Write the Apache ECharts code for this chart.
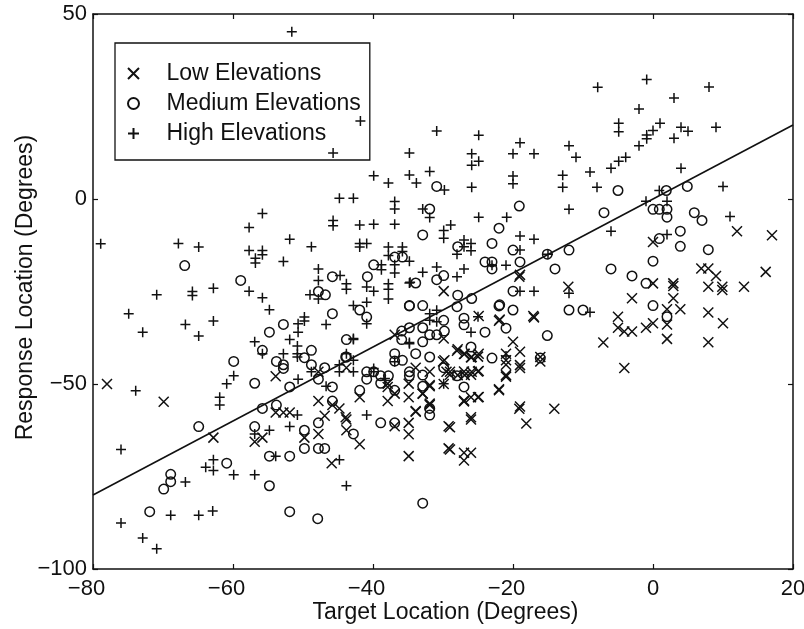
<!DOCTYPE html>
<html><head><meta charset="utf-8">
<style>html,body{margin:0;padding:0;background:#fff}#c{width:804px;height:629px}</style>
<script src="https://cdn.jsdelivr.net/npm/echarts@6/dist/echarts.min.js"></script>
</head><body><div id="c"></div>
<script>
const seriesNames=['Low Elevations','Medium Elevations','High Elevations'];
const xTicks=[-80,-60,-40,-20,0,20];
const yTicks=[-100,-50,0,50];
const xTitle='Target Location (Degrees)';
const yTitle='Response Location (Degrees)';
const unityLine=[[-80,-80],[20,20]];
const low=[[-78,-50],[-69.9,-54.8],[-62.8,-64.5],[-53.9,-47.9],[-56.9,-65.6],[-55.8,-64.5],[-53.9,-57.7],[-51.9,-57.7],[-52.8,-57.7],[-47.8,-54.6],[-45.8,-55.7],[-44.8,-56.6],[-46.9,-58.6],[-43.8,-59.6],[-43.8,-62.5],[-47.8,-63.5],[-49.8,-64.5],[-41.9,-66.3],[-45.9,-71.4],[-34.9,-69.5],[-34.9,-63.6],[-34.9,-60.5],[-36.9,-61.4],[-41.9,-53.6],[-37.9,-54.6],[-37.9,-50.8],[-34.9,-53.6],[-34.9,-49.9],[-32.9,-52.6],[-31.9,-55.7],[-33.9,-57.5],[-31.9,-50.6],[-31.9,-46.7],[-33.9,-45.6],[-43.8,-45.6],[-47.8,-46.7],[-36.9,-36.7],[-29.9,-37.7],[-29.8,-43.6],[-29.5,-46.7],[-29.9,-50],[-29.2,-61.4],[-29.2,-67.4],[-29.9,-24.9],[-19,-20.5],[-17.1,-31.6],[-21.9,-32.6],[-24.9,-31.6],[-20,-38.6],[-27.9,-40.6],[-26.9,-41.8],[-25.9,-42.7],[-24.9,-41.8],[-21,-41.8],[-19,-41.3],[-21,-43.6],[-19,-44.9],[-16.1,-42.7],[-16.1,-43.9],[-29,-46.7],[-27.9,-47.6],[-25.9,-46.7],[-24.9,-46.5],[-26.9,-47.6],[-21,-47.6],[-31.9,-50.3],[-37.9,-49.9],[-36.9,-52.6],[-32.9,-52.6],[-31.9,-55.3],[-33.9,-57.3],[-27,-54.5],[-26,-53.6],[-24.9,-53.5],[-22,-51.4],[-19,-56.1],[-26,-59],[-43.9,-59],[-3,-26.8],[2.9,-26.8],[7.9,-30.7],[10,-33.6],[-17,-32],[-22,-32.9],[-5,-31.8],[-5,-34.8],[-4.1,-35.8],[-3,-35.8],[-1,-34.8],[0,-33.6],[2,-29.8],[2,-33.9],[2,-37.8],[3.9,-29.8],[7.9,-38.7],[-7.1,-38.8],[-4.1,-45.7],[-28,-41],[-27,-41.9],[-26,-42.8],[-25,-42.6],[-21,-44.8],[-19,-45.7],[-21,-48],[-25,-46.6],[-26,-47.5],[-27,-46.6],[-29,-47.5],[-30,-43.9],[-22,-51.7],[-25,-53.6],[-27,-54.7],[-19.1,-56.7],[-14.1,-56.7],[-18.1,-60.7],[-26,-59.6],[-29,-61.7],[-29,-67.7],[-27,-68.6],[-26,-68.6],[-27,-70.7],[12,-8.7],[17,-9.8],[0,-11.6],[-19.1,-21],[-12.1,-23.7],[6.9,-18.8],[7.9,-18.8],[9,-20.8],[16.1,-19.7],[0,-22.8],[2.9,-22.8],[2.9,-23.5],[7.9,-23.7],[9.9,-23.7],[9.9,-24.6],[13,-23.7]];
const medium=[[-66.9,-18],[-58.9,-22],[-47.8,-25],[-46.8,-25.9],[-45.8,-21],[-40.8,-21],[-39.9,-17.8],[-36.9,-15.7],[-35.8,-15.7],[-33.9,-22.7],[-30.9,-21.8],[-29.9,-20.7],[-32.9,-9.7],[-31.9,-2.7],[-30.9,3.4],[-45.8,-31],[-52.8,-33.9],[-54.8,-36],[-41.9,-30],[-40.9,-31.9],[-34.8,-28.8],[-32.9,-28.8],[-29.9,-32.8],[-29.8,-35.7],[-32.9,-34.8],[-34.8,-34.8],[-35.9,-35.7],[-35.9,-38],[-32.9,-38.6],[-31.9,-36.7],[-30.9,-36.7],[-43.8,-38],[-55.8,-40.9],[-59.9,-43.9],[-48.8,-40.9],[-49.8,-42.9],[-53.8,-43.9],[-52.8,-44.8],[-52.8,-45.8],[-48.8,-44.8],[-46.9,-45.6],[-43.8,-42.7],[-36.9,-41.8],[-36.9,-43.8],[-35.8,-43.6],[-33.9,-41.8],[-31.9,-42.7],[-29.9,-45.6],[-40.9,-46.7],[-40.9,-48.7],[-39.9,-46.7],[-38.9,-47.8],[-38.9,-49.8],[-37.8,-47.8],[-34.8,-46.7],[-34.8,-47.8],[-32.9,-47.6],[-32.9,-50.6],[-36.9,-51.7],[-41.9,-51.7],[-56.9,-49.8],[-51.9,-50.8],[-47.8,-48.7],[-45.8,-50.8],[-45.8,-54.6],[-55.8,-56.6],[-53.8,-55.7],[-31.9,-56.6],[-31.9,-58.4],[-47.8,-60.5],[-42.8,-63.5],[-64.9,-61.5],[-56.9,-61.5],[-49.8,-62.5],[-38.9,-60.5],[-36.9,-60.5],[-49.8,-67.4],[-47.8,-67.4],[-46.9,-67.4],[-54.8,-69.5],[-51.9,-69.5],[-60.9,-71.4],[-68.9,-74.4],[-68.9,-76.4],[-69.9,-78.4],[-54.8,-77.5],[-71.9,-84.5],[-51.9,-84.5],[-47.9,-86.4],[-32.9,-82.2],[-5,2.3],[-19.1,-1.9],[-7,-3.7],[4.9,3.4],[1.9,2.3],[0,-2.8],[0.9,-2.8],[2,-2.8],[2,-4.9],[5.9,-3.7],[7,-5.8],[-22,-7.9],[-23,-12],[-27.9,-12.9],[-20,-13.8],[3.9,-8.7],[0.9,-10.7],[3.9,-12.8],[7.9,-13.7],[-15.1,-14.9],[-12,-13.8],[0,-16.8],[-24,-17],[-23,-17],[-23,-18.9],[-19,-17],[-14,-18.9],[-6,-18.9],[-3,-20.8],[-1,-22.8],[-20,-24.9],[-27.9,-26],[-25.9,-26.9],[-22,-28.9],[-20,-30],[-12,-30],[-10,-30],[0,-28.8],[2,-31.8],[-15.1,-36.9],[-21,-34.9],[-24,-36],[-27,-32.2],[-27,-34],[-28,-29.1],[-26,-40],[-23,-43],[-16.1,-43],[-27,-50.8],[-28,-47.8],[-34.8,-28.9],[-21.9,-28.6],[-43.9,-42.7]];
const high=[[-51.6,45.2],[-41.8,21.1],[-30.9,18.4],[-45.7,12.4],[-34.8,12.4],[-39.9,6.3],[-37.8,4.3],[-34.8,6.5],[-33.8,4.3],[-31.9,7.4],[-29.8,2.4],[-44.8,0.2],[-42.8,0.2],[-36.9,-0.7],[-36.9,-2.7],[-32.9,-2.7],[-31.9,-5],[-55.8,-3.9],[-57.7,-7.7],[-45.7,-5.8],[-45.7,-7.2],[-41.9,-7],[-39.9,-6.8],[-36.9,-6.8],[-29.9,-8.5],[-29.9,-10.6],[-28.9,-7],[-78.9,-12.1],[-67.8,-12],[-64.9,-13],[-51.9,-10.9],[-48.8,-12.9],[-41.9,-12],[-40.9,-12],[-41.9,-13],[-37.8,-13],[-35.8,-13],[-35.8,-14.2],[-57.7,-13.9],[-55.8,-13.9],[-55.8,-15.1],[-56.8,-16],[-56.8,-17.3],[-52.8,-16.9],[-37.8,-15.3],[-36.9,-17.8],[-36.9,-20],[-34.8,-16.8],[-38.8,-17.8],[-38.8,-19.1],[-47.8,-18.9],[-47.8,-22],[-44.7,-20.7],[-43.8,-22.9],[-43.8,-24.4],[-40.9,-23.8],[-39.9,-24.9],[-37.8,-22.9],[-37.8,-24.4],[-34.8,-22.7],[-32.9,-19.8],[-30.9,-18.4],[-70.9,-25.9],[-65.8,-25],[-65.8,-26.1],[-62.8,-24.1],[-57.7,-24.9],[-55.8,-26.7],[-49,-25.9],[-47.8,-27],[-54.8,-29.9],[-74.9,-31],[-72.9,-36],[-66.8,-33.9],[-64.9,-37],[-62.8,-33],[-42.8,-28.8],[-40.9,-27.9],[-37.8,-27],[-50.7,-33.7],[-50.7,-36],[-49.8,-31.9],[-49.8,-33],[-46.7,-33.9],[-40.9,-33.7],[-51.9,-38],[-50.8,-39.7],[-50.8,-41.8],[-56.9,-38.6],[-55.8,-41.8],[-52.8,-41.8],[-50.8,-42.7],[-42.8,-38],[-42.8,-43.6],[-43.8,-41.8],[-44.8,-44.8],[-44.8,-46.7],[-42.8,-46.7],[-48.8,-46.7],[-39.9,-46.7],[-50.7,-48.7],[-59.9,-47.8],[-60.9,-49.9],[-46.7,-50.6],[-73.9,-51.8],[-61.9,-53.6],[-61.9,-55.7],[-50.8,-58.4],[-40.9,-58.4],[-51.9,-61.5],[-54.8,-62.5],[-56.9,-63.5],[-76,-67.7],[-62.8,-70.5],[-62.8,-73.4],[-63.9,-72.5],[-53.9,-69.5],[-44.8,-70.5],[-59.9,-74.5],[-56.9,-74.5],[-66.8,-76.5],[-43.8,-77.5],[-68.9,-85.5],[-64.9,-85.5],[-62.9,-84.3],[-76,-87.6],[-72.9,-91.6],[-70.9,-94.5],[-31.9,-31],[-31.9,-32.8],[-30.9,-30.1],[-30.9,-33.2],[-29.9,-49.9],[-34.8,-39.1],[-36.9,-44],[-38.3,-48.5],[-7.9,30.2],[-0.9,32.3],[8,30.3],[3,27.3],[-2,24.3],[-4.9,20.5],[-4.9,18.2],[1,20.5],[0,18.5],[-0.9,17.3],[-0.9,16.3],[4,19.4],[5,18.3],[9,19.4],[3,16.4],[-2,14.4],[-24.9,17.2],[-19,15.2],[-25.9,12.2],[-24.9,10.2],[-25.9,9.1],[-20,12.2],[-17,12.2],[-12,14.4],[-11,11.3],[-3.9,11.3],[-4.9,10.2],[-6,8.3],[-9,7.3],[4,8.3],[-20,6.2],[-20,4.1],[-12.9,6.4],[-12.9,3.2],[-8,3.2],[-25.9,3.2],[10,3.4],[0.9,2.3],[-1,-0.6],[2,-0.6],[-12,-2.8],[-24.9,-4.9],[-20.9,-4.9],[11,-4.7],[-6,-8.7],[2,-9.6],[-19,-10],[-17,-10.9],[-27,-11.1],[-27,-12.9],[-26,-12],[-26,-14],[-28,-14.9],[-19,-13.8],[-21,-17.9],[-23,-17.9],[-27,-18.9],[-28,-21],[-19,-24.9],[-17,-24.9],[-12,-25.5],[-15,-14.9],[-9,-30.6],[-26,-36],[-25,-31.8],[-21,-42.4],[-42.8,-37.7],[-34.8,-38.8],[-39.9,-45.8],[-34.7,-22.5]];

const INK='#111';
const FONT='"Liberation Sans",Arial,sans-serif';
const crossPath='path://M0 0L10 10M0 10L10 0';
const plusPath='path://M5 0L5 10M0 5L10 5';
function markers(name,data,symbol,size){
  return {name,type:'scatter',data,symbol,symbolSize:size,z:3,silent:true,
    itemStyle:{color:'rgba(0,0,0,0)',borderColor:INK,borderWidth:1.5,opacity:1}};
}
const tickLabel=v=>v<0?'{n|\u2212'+Math.abs(v)+'}':'{p|'+v+'}';
const labelRich={n:{fontFamily:FONT,fontSize:22,color:INK,padding:[0,13,0,0]},p:{fontFamily:FONT,fontSize:22,color:INK}};
const axisBase={axisLine:{show:true,onZero:false,lineStyle:{color:INK,width:1.5}},
  axisTick:{show:true,inside:true,length:5,lineStyle:{color:INK,width:1.2}},splitLine:{show:false}};
const chart=echarts.init(document.getElementById('c'),null,{renderer:'canvas'});
chart.setOption({
  animation:false,backgroundColor:'#fff',
  grid:{left:93,top:14,width:700,height:555,containLabel:false,outerBoundsMode:'none'},
  legend:{show:true,data:seriesNames,orient:'vertical',left:115,top:43,z:1,
    padding:[19,9,15,12],itemGap:7,itemWidth:30,itemHeight:11,selectedMode:false,
    backgroundColor:'#fff',borderColor:INK,borderWidth:1.3,borderRadius:0,
    textStyle:{fontFamily:FONT,fontSize:23,color:INK,padding:[0,0,0,13]}},
  xAxis:[
    {...axisBase,type:'value',min:-80,max:20,interval:20,position:'bottom',
      name:xTitle,nameLocation:'middle',nameGap:32,nameMoveOverlap:false,nameTextStyle:{fontFamily:FONT,fontSize:23,color:INK,padding:[0,0,0,5]},
      axisLabel:{show:true,margin:9,formatter:tickLabel,rich:labelRich,hideOverlap:false,showMinLabel:true,showMaxLabel:true}},
    {...axisBase,type:'value',min:-80,max:20,interval:20,position:'top',axisLabel:{show:false}}
  ],
  yAxis:[
    {...axisBase,type:'value',min:-100,max:50,interval:50,position:'left',
      name:yTitle,nameLocation:'middle',nameGap:56,nameRotate:90,nameMoveOverlap:false,nameTextStyle:{fontFamily:FONT,fontSize:23,color:INK,padding:[0,0,0,8]},
      axisLabel:{show:true,margin:6,formatter:v=>v<0?'\u2212'+Math.abs(v):''+v,fontFamily:FONT,fontSize:22,color:INK,showMinLabel:true,showMaxLabel:true}},
    {...axisBase,type:'value',min:-100,max:50,interval:50,position:'right',axisLabel:{show:false}}
  ],
  series:[
    markers(seriesNames[0],low,crossPath,[10,10]),
    markers(seriesNames[1],medium,'circle',9.5),
    markers(seriesNames[2],high,plusPath,[10,10]),
    {type:'line',data:unityLine,symbol:'none',silent:true,z:4,lineStyle:{color:INK,width:1.6}}
  ]
});
</script></body></html>
